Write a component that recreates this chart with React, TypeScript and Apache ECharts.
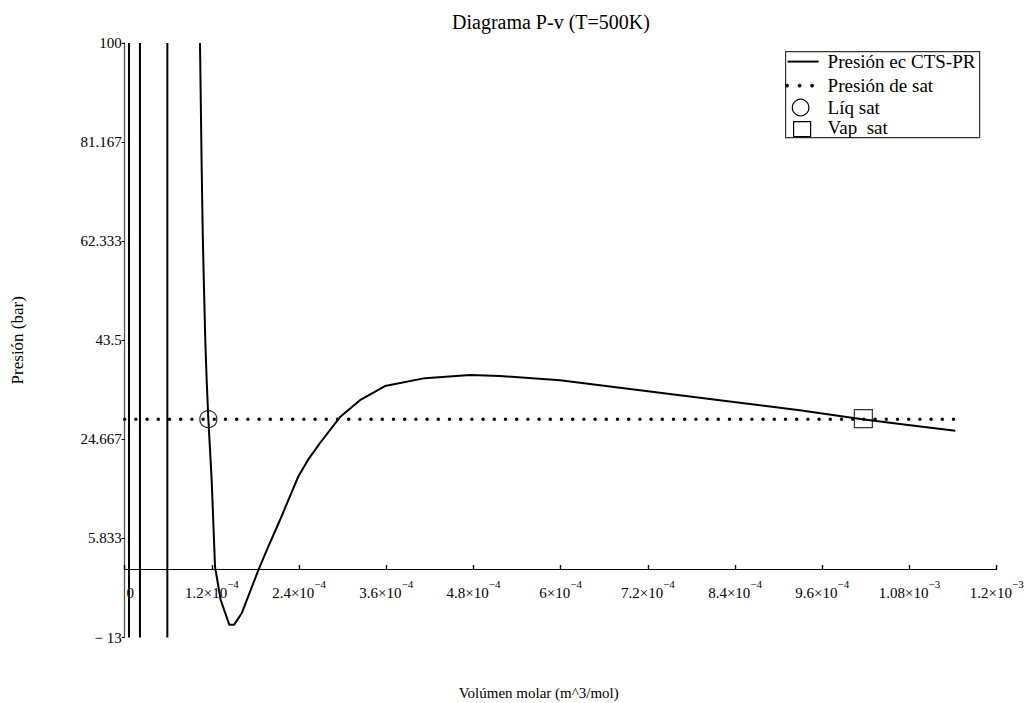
import React, { useEffect, useRef } from "react";
import * as echarts from "echarts";

const FONT = '"Liberation Serif", "Times New Roman", serif';

// Molar volume (m^3/mol) and pressure (bar) of the CTS-PR isotherm
const curveV = [
  1.036e-4, 1.06e-4, 1.075e-4, 1.09e-4, 1.11e-4, 1.128e-4, 1.151e-4, 1.197e-4, 1.243e-4,
  1.321e-4, 1.44e-4, 1.504e-4, 1.61e-4, 1.839e-4, 1.976e-4, 2.137e-4, 2.389e-4, 2.52e-4,
  2.688e-4, 2.963e-4, 3.238e-4, 3.582e-4, 4.132e-4, 4.752e-4, 5.165e-4, 5.99e-4, 7.09e-4,
  8.19e-4, 9.29e-4, 1.015e-3, 1.067e-3, 1.143e-3,
];
const curveP = [
  100, 75.7, 63, 54, 43, 36.0, 28.5, 16.9, 0.45,
  -5.87, -10.6, -10.6, -8.4, -0.2, 4.26, 9.33, 17.6, 20.7,
  23.97, 28.9, 32.1, 34.8, 36.3, 36.9, 36.7, 35.9, 34.0,
  32.1, 30.2, 28.5, 27.6, 26.3,
];
// Asymptote branches (vertical lines)
const poleV = [5.9e-6, 2.1e-5, 5.87e-5];
// Saturation pressure
const pSat = 28.5;
const satLineV = [0, 1.143e-3];
const liqSat = [1.151e-4, 28.5];
const vapSat = [1.0165e-3, 28.6];

// Axes
const xTickValues = [0, 1.2e-4, 2.4e-4, 3.6e-4, 4.8e-4, 6e-4, 7.2e-4, 8.4e-4, 9.6e-4, 1.08e-3, 1.2e-3];
const xTickMant = ["0", "1.2×10", "2.4×10", "3.6×10", "4.8×10", "6×10", "7.2×10", "8.4×10", "9.6×10", "1.08×10", "1.2×10"];
const xTickExp = ["", "−4", "−4", "−4", "−4", "−4", "−4", "−4", "−4", "−3", "−3"];
const yTickValues = [-13, 5.833, 24.667, 43.5, 62.333, 81.167, 100];
const yTickLabels = ["− 13", "5.833", "24.667", "43.5", "62.333", "81.167", "100"];

const legendNames = ["Presión ec CTS-PR", "Presión de sat", "Líq sat", "Vap  sat"];

function nearestIndex(arr: number[], v: number) {
  let best = 0;
  for (let i = 1; i < arr.length; i++) if (Math.abs(arr[i] - v) < Math.abs(arr[best] - v)) best = i;
  return best;
}

export default function App() {
  const ref = useRef<HTMLDivElement>(null);
  useEffect(() => {
    const chart = echarts.init(ref.current!, undefined, { renderer: "svg" });
    const lx = 785, ly = 51;
    const option: any = {
      animation: false,
      backgroundColor: "#fff",
      title: {
        text: "Diagrama P-v (T=500K)",
        left: 447,
        top: 7,
        textStyle: { fontFamily: FONT, fontSize: 20, fontWeight: "normal", color: "#000" },
      },
      grid: { left: 124.7, right: 30.3, top: 43, bottom: 65.5, containLabel: false, outerBoundsMode: "none" },
      xAxis: [
        {
          type: "value",
          min: 0,
          max: 1.2e-3,
          position: "bottom",
          name: "Volúmen molar (m^3/mol)",
          nameLocation: "middle",
          nameGap: 48,
          nameTextStyle: { fontFamily: FONT, fontSize: 15, color: "#000", padding: [0, 44, 0, 0] },
          axisLine: { onZero: true, onZeroAxisIndex: 0, lineStyle: { color: "#000", width: 1.2 } },
          axisTick: { show: true, inside: true, length: 4, customValues: xTickValues, lineStyle: { color: "#000", width: 1.2 } },
          splitLine: { show: false },
          axisLabel: {
            customValues: xTickValues,
            margin: -59,
            formatter: (v: number) => {
              const i = nearestIndex(xTickValues, v);
              return xTickExp[i] ? `{m|${xTickMant[i]}}{e|${xTickExp[i]}}` : `{z|${xTickMant[i]}}`;
            },
            rich: {
              m: { fontFamily: FONT, fontSize: 15, color: "#000", lineHeight: 22, verticalAlign: "bottom" },
              z: { fontFamily: FONT, fontSize: 15, color: "#000", lineHeight: 22, verticalAlign: "bottom", padding: [0, 0, 0, 11] },
              e: { fontFamily: FONT, fontSize: 11, color: "#000", lineHeight: 11, verticalAlign: "top" },
            },
          },
        },
        {
          type: "value",
          min: 0,
          max: 1.2e-3,
          position: "top",
          axisLine: { show: false, onZero: true, onZeroAxisIndex: 0 },
          axisTick: { show: true, inside: false, length: 4, customValues: xTickValues, lineStyle: { color: "#000", width: 1.2 } },
          axisLabel: { show: false, customValues: xTickValues },
          splitLine: { show: false },
        },
      ],
      yAxis: {
        type: "value",
        min: -13,
        max: 100,
        name: "Presión (bar)",
        nameLocation: "middle",
        nameRotate: 90,
        nameGap: 99,
        nameTextStyle: { fontFamily: FONT, fontSize: 17, color: "#000" },
        axisLine: { show: true, onZero: false, lineStyle: { color: "#555", width: 1.3 } },
        axisTick: { show: true, inside: false, length: 3, customValues: yTickValues, lineStyle: { color: "#000", width: 1 } },
        splitLine: { show: false },
        axisLabel: {
          customValues: yTickValues,
          margin: 3,
          fontFamily: FONT,
          fontSize: 15,
          color: "#000",
          formatter: (v: number) => yTickLabels[nearestIndex(yTickValues, v)],
        },
      },
      series: [
        ...poleV.map((v) => ({
          type: "line",
          name: "asymptote",
          data: [[v, -13], [v, 100]],
          symbol: "none",
          lineStyle: { color: "#000", width: 2 },
          silent: true,
        })),
        {
          type: "line",
          name: legendNames[0],
          data: curveV.map((v, i) => [v, curveP[i]]),
          symbol: "none",
          lineStyle: { color: "#000", width: 2 },
        },
        {
          type: "line",
          name: legendNames[1],
          data: satLineV.map((v) => [v, pSat]),
          symbol: "none",
          lineStyle: { color: "#000", width: 3.5, type: [0, 11.2], cap: "round" },
        },
        {
          type: "scatter",
          name: legendNames[2],
          data: [liqSat],
          symbol: "circle",
          symbolSize: 17,
          itemStyle: { color: "rgba(0,0,0,0)", borderColor: "#000", borderWidth: 1.2 },
        },
        {
          type: "scatter",
          name: legendNames[3],
          data: [vapSat],
          symbol: "rect",
          symbolSize: 18,
          itemStyle: { color: "rgba(0,0,0,0)", borderColor: "#000", borderWidth: 1.2 },
        },
      ],
      graphic: [
        {
          type: "group",
          left: lx,
          top: ly,
          children: [
            { type: "rect", shape: { x: 0, y: 0, width: 194, height: 86 }, style: { fill: "#fff", stroke: "#333", lineWidth: 1.2 } },
            { type: "line", shape: { x1: 2, y1: 10, x2: 33, y2: 10 }, style: { stroke: "#000", lineWidth: 2 } },
            { type: "circle", shape: { cx: 1.5, cy: 34, r: 1.9 }, style: { fill: "#000" } },
            { type: "circle", shape: { cx: 14, cy: 34, r: 1.9 }, style: { fill: "#000" } },
            { type: "circle", shape: { cx: 26.5, cy: 34, r: 1.9 }, style: { fill: "#000" } },
            { type: "circle", shape: { cx: 15, cy: 56, r: 8.3 }, style: { fill: "none", stroke: "#000", lineWidth: 1.2 } },
            { type: "rect", shape: { x: 8, y: 70, width: 17, height: 15 }, style: { fill: "none", stroke: "#000", lineWidth: 1.2 } },
            ...legendNames.map((n, i) => ({
              type: "text",
              x: 42,
              y: [10, 34, 56, 76][i],
              style: { text: n, font: `19px ${FONT}`, fill: "#000", textVerticalAlign: "middle", verticalAlign: "middle" },
            })),
          ],
        },
      ],
    };
    chart.setOption(option);
    return () => chart.dispose();
  }, []);
  return <div ref={ref} style={{ position: "fixed", left: 0, top: 0, width: 1027, height: 703 }} />;
}
